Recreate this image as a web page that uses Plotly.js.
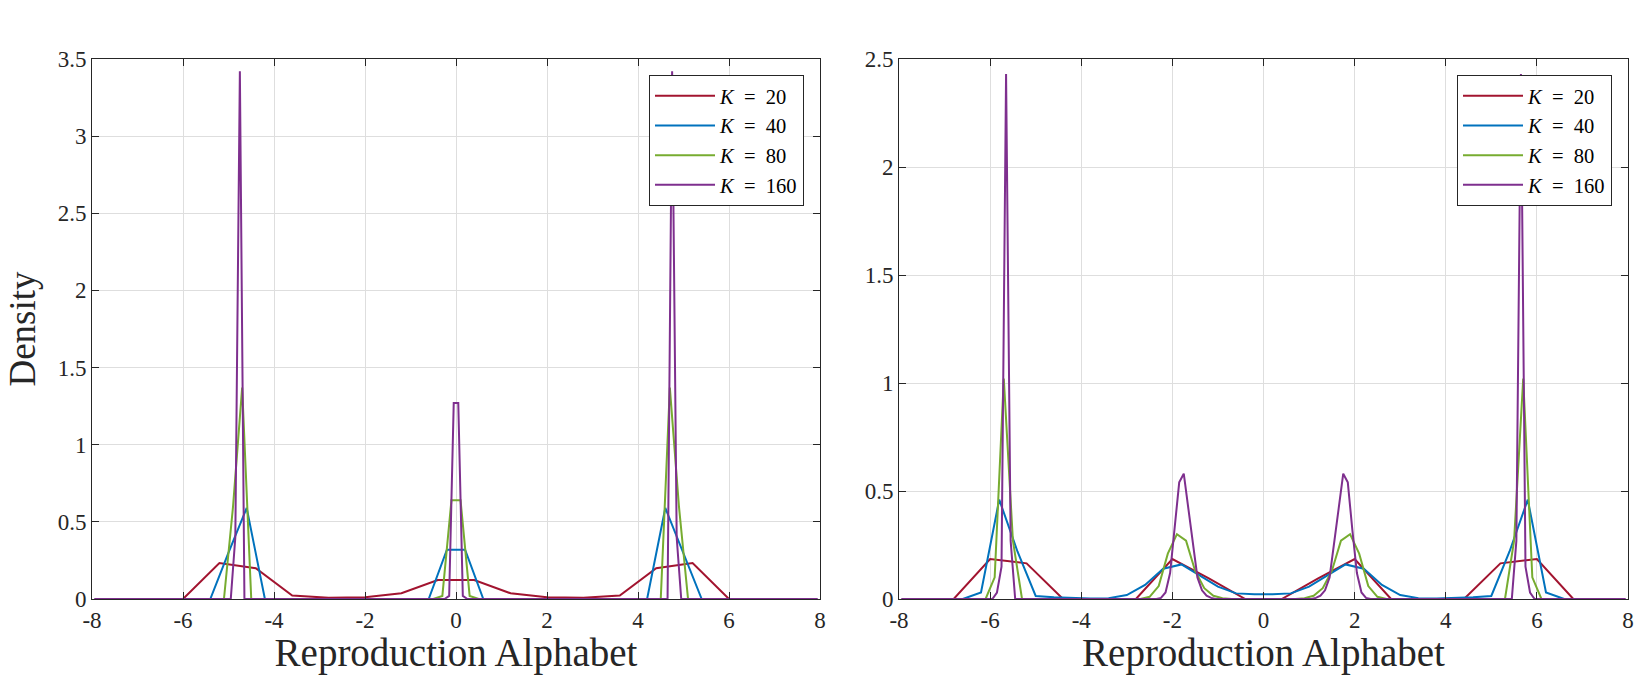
<!DOCTYPE html>
<html>
<head>
<meta charset="utf-8">
<script src="https://cdn.plot.ly/plotly-3.0.1.min.js"></script>
<style>
  html, body { margin: 0; padding: 0; background: #fff; }
  #chart { width: 1650px; height: 675px; }
</style>
</head>
<body>
<div id="chart"></div>
<script>
// tick labels (plain hyphen, like the original)
const xTickVals = [-8, -6, -4, -2, 0, 2, 4, 6, 8];
const xTickLabels = ["-8", "-6", "-4", "-2", "0", "2", "4", "6", "8"];
const yTickValsLeft = [0, 0.5, 1, 1.5, 2, 2.5, 3, 3.5];
const yTickLabelsLeft = ["0", "0.5", "1", "1.5", "2", "2.5", "3", "3.5"];
const yTickValsRight = [0, 0.5, 1, 1.5, 2, 2.5];
const yTickLabelsRight = ["0", "0.5", "1", "1.5", "2", "2.5"];

const seriesNames = [
  "<i>K</i>\u2002=\u200220",
  "<i>K</i>\u2002=\u200240",
  "<i>K</i>\u2002=\u200280",
  "<i>K</i>\u2002=\u2002160",
];
const seriesColors = ["#A2142F", "#0072BD", "#77AC30", "#7E2F8E"];

// left panel (3-level alphabet), bin centres where the curve changes
const leftK20X = [-7.6, -6.0, -5.2, -4.4, -3.6, -2.8, -2.0, -1.2, -0.4, 0.4, 1.2, 2.0, 2.8, 3.6, 4.4, 5.2, 6.0, 7.6];
const leftK20Y = [0, 0, 0.233, 0.2, 0.022, 0.008, 0.011, 0.037, 0.123, 0.123, 0.037, 0.011, 0.008, 0.022, 0.2, 0.233, 0, 0];
const leftK40X = [-7.8, -5.4, -5.0, -4.6, -4.2, -0.6, -0.2, 0.2, 0.6, 4.2, 4.6, 5.0, 5.4, 7.8];
const leftK40Y = [0, 0, 0.3, 0.59, 0, 0, 0.32, 0.32, 0, 0, 0.59, 0.3, 0, 0];
const leftK80X = [-7.9, -5.1, -4.9, -4.7, -4.5, -0.5, -0.3, -0.1, 0.1, 0.3, 0.5, 4.5, 4.7, 4.9, 5.1, 7.9];
const leftK80Y = [0, 0, 0.6, 1.37, 0, 0, 0.02, 0.64, 0.64, 0.02, 0, 0, 1.37, 0.6, 0, 0];
const leftK160X = [-7.95, -4.95, -4.85, -4.75, -4.65, -0.25, -0.15, -0.05, 0.05, 0.15, 0.25, 4.65, 4.75, 4.85, 4.95, 7.95];
const leftK160Y = [0, 0, 0.4, 3.42, 0, 0, 0.02, 1.27, 1.27, 0.02, 0, 0, 3.42, 0.4, 0, 0];

// right panel (4-level alphabet)
const rightK20X = [-7.6, -6.8, -6.0, -5.2, -4.4, -2.8, -2.0, -1.2, -0.4, 0.4, 1.2, 2.0, 2.8, 4.4, 5.2, 6.0, 6.8, 7.6];
const rightK20Y = [0, 0, 0.185, 0.165, 0, 0, 0.185, 0.095, 0, 0, 0.095, 0.185, 0, 0, 0.165, 0.185, 0, 0];
const rightK40X = [-7.8, -6.6, -6.2, -5.8, -5.4, -5.0, -4.6, -4.2, -3.8, -3.4, -3.0, -2.6, -2.2, -1.8, -1.4, -1.0, -0.6, -0.2,
  0.2, 0.6, 1.0, 1.4, 1.8, 2.2, 2.6, 3.0, 3.4, 3.8, 4.2, 4.6, 5.0, 5.4, 5.8, 6.2, 6.6, 7.8];
const rightK40Y = [0, 0, 0.03, 0.46, 0.22, 0.014, 0.008, 0.004, 0.002, 0.004, 0.018, 0.065, 0.14, 0.16, 0.11, 0.057, 0.026, 0.022,
  0.022, 0.026, 0.057, 0.11, 0.16, 0.14, 0.065, 0.018, 0.004, 0.002, 0.004, 0.008, 0.014, 0.22, 0.46, 0.03, 0, 0];
const rightK80X = [-7.9, -6.1, -5.9, -5.7, -5.5, -5.3, -2.7, -2.5, -2.3, -2.1, -1.9, -1.7, -1.5, -1.3, -1.1, -0.9, -0.7,
  0.7, 0.9, 1.1, 1.3, 1.5, 1.7, 1.9, 2.1, 2.3, 2.5, 2.7, 5.3, 5.5, 5.7, 5.9, 6.1, 7.9];
const rightK80Y = [0, 0, 0.1, 1.02, 0.27, 0, 0, 0.01, 0.06, 0.21, 0.30, 0.27, 0.13, 0.05, 0.015, 0.004, 0,
  0, 0.004, 0.015, 0.05, 0.13, 0.27, 0.30, 0.21, 0.06, 0.01, 0, 0, 0.27, 1.02, 0.1, 0, 0];
const rightK160X = [-7.95, -5.95, -5.85, -5.75, -5.65, -5.55, -5.45, -2.35, -2.25, -2.15, -2.05, -1.95, -1.85, -1.75, -1.65,
  -1.55, -1.45, -1.35, -1.25, -1.15, -1.05, 1.05, 1.15, 1.25, 1.35, 1.45, 1.55, 1.65, 1.75, 1.85, 1.95, 2.05, 2.15, 2.25,
  2.35, 5.45, 5.55, 5.65, 5.75, 5.85, 5.95, 7.95];
const rightK160Y = [0, 0, 0.03, 0.15, 2.43, 0.27, 0, 0, 0.005, 0.03, 0.12, 0.32, 0.54, 0.58, 0.42,
  0.25, 0.1, 0.04, 0.015, 0.005, 0, 0, 0.005, 0.015, 0.04, 0.1, 0.25, 0.42, 0.58, 0.54, 0.32, 0.12, 0.03, 0.005,
  0, 0, 0.27, 2.43, 0.15, 0.03, 0, 0];

const W = 1650;
const FONT = '"Liberation Serif", "DejaVu Serif", serif';
const INK = "#262626";

function lineTrace(x, y, i, panel) {
  return {
    type: "scatter",
    mode: "lines",
    x: x,
    y: y,
    name: seriesNames[i],
    line: { color: seriesColors[i], width: 2 },
    xaxis: panel === 1 ? "x" : "x2",
    yaxis: panel === 1 ? "y" : "y2",
    legend: panel === 1 ? "legend" : "legend2",
    hoverinfo: "skip",
  };
}

function axisBase() {
  return {
    showline: true,
    linecolor: INK,
    linewidth: 1,
    mirror: "ticks",
    ticks: "inside",
    ticklen: 7,
    tickcolor: INK,
    tickwidth: 1,
    showgrid: true,
    gridcolor: "#dedede",
    gridwidth: 1,
    zeroline: false,
    tickfont: { size: 23, color: INK },
    fixedrange: true,
  };
}

function legendBox(rightPx) {
  return {
    x: rightPx / W,
    xanchor: "right",
    y: 1 - 16 / 540,
    yanchor: "top",
    bgcolor: "#ffffff",
    bordercolor: INK,
    borderwidth: 1,
    font: { size: 20.5, color: "#000000", family: FONT },
    itemwidth: 60,
    tracegroupgap: 0,
  };
}

const data = [
  lineTrace(leftK20X, leftK20Y, 0, 1),
  lineTrace(leftK40X, leftK40Y, 1, 1),
  lineTrace(leftK80X, leftK80Y, 2, 1),
  lineTrace(leftK160X, leftK160Y, 3, 1),
  lineTrace(rightK20X, rightK20Y, 0, 2),
  lineTrace(rightK40X, rightK40Y, 1, 2),
  lineTrace(rightK80X, rightK80Y, 2, 2),
  lineTrace(rightK160X, rightK160Y, 3, 2),
];

const xTitle = { text: "Reproduction Alphabet", font: { size: 39, color: INK }, standoff: 3 };

const layout = {
  width: 1650,
  height: 675,
  margin: { l: 0, r: 0, t: 59, b: 76 },
  paper_bgcolor: "#ffffff",
  plot_bgcolor: "#ffffff",
  font: { family: FONT, size: 20, color: INK },
  showlegend: true,
  xaxis: Object.assign(axisBase(), {
    domain: [92 / W, 820 / W],
    anchor: "y",
    range: [-8, 8],
    tickvals: xTickVals,
    ticktext: xTickLabels,
    title: xTitle,
  }),
  yaxis: Object.assign(axisBase(), {
    anchor: "x",
    range: [0, 3.5],
    tickvals: yTickValsLeft,
    ticktext: yTickLabelsLeft,
    title: { text: "Density", font: { size: 37, color: INK }, standoff: 10 },
  }),
  xaxis2: Object.assign(axisBase(), {
    domain: [899 / W, 1628 / W],
    anchor: "y2",
    range: [-8, 8],
    tickvals: xTickVals,
    ticktext: xTickLabels,
    title: xTitle,
  }),
  yaxis2: Object.assign(axisBase(), {
    anchor: "x2",
    range: [0, 2.5],
    tickvals: yTickValsRight,
    ticktext: yTickLabelsRight,
  }),
  legend: legendBox(804),
  legend2: legendBox(1612),
};

Plotly.newPlot("chart", data, layout, { displayModeBar: false, staticPlot: true });
</script>
</body>
</html>
